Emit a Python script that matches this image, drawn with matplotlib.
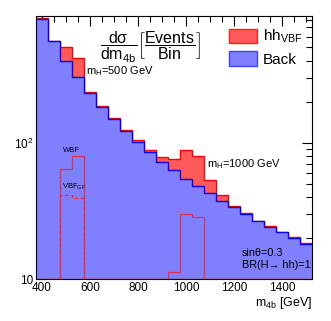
import numpy as np
import matplotlib
matplotlib.use("Agg")
import matplotlib.pyplot as plt
from matplotlib.patches import Patch
from matplotlib.ticker import FixedLocator, MultipleLocator, LogLocator, NullFormatter

plt.rcParams['font.family'] = ['Liberation Sans', 'DejaVu Sans']
plt.rcParams['mathtext.fontset'] = 'custom'
plt.rcParams['mathtext.rm'] = 'Liberation Sans'
plt.rcParams['mathtext.it'] = 'Liberation Sans'
plt.rcParams['mathtext.bf'] = 'Liberation Sans:bold'

# ---- data ----
bin_edges = np.arange(375, 1526, 50)
background = [810, 555, 400, 302, 230, 184, 150, 122, 102, 86, 72.6, 63, 54, 48,
              42.7, 37.5, 33.5, 30.2, 26.5, 24, 22, 20, 18.2]
sig_plus_back = [815, 560, 506, 421, 235, 186, 152, 124, 104, 88.5, 78, 76, 88, 80,
                 53.2, 41, 34.5, 30.6, 26.8, 24.3, 22.3, 20.2, 18.4]
wbf_500 = [0, 0, 64, 80, 0, 0, 0, 0, 0, 0, 0, 0, 0, 0, 0, 0, 0, 0, 0, 0, 0, 0, 0]
vbfgf_500 = [0, 0, 41, 39.5, 0, 0, 0, 0, 0, 0, 0, 0, 0, 0, 0, 0, 0, 0, 0, 0, 0, 0, 0]
wbf_1000 = [0, 0, 0, 0, 0, 0, 0, 0, 0, 0, 0, 11.2, 29.8, 28.4, 0, 0, 0, 0, 0, 0, 0, 0, 0]
x_ticks = [400, 600, 800, 1000, 1200, 1400]
y_ticks = [10, 100]
y_tick_labels = ['10', r'$10^{2}$']

ylo, yhi = 10, 850
xlo, xhi = 375, 1525

fig = plt.figure(figsize=(3.31, 3.21), dpi=100)
ax = fig.add_axes([36/331, 1-279/321, 276/331, 263/321])
ax.set_yscale('log')

red_fill = '#ff5a5a'
blue_fill = '#8080ff'
sig_line = '#e0304a'

ax.stairs(sig_plus_back, bin_edges, fill=True, color=red_fill, baseline=ylo, zorder=1)
ax.stairs(sig_plus_back, bin_edges, color='#ff0000', lw=1.0, baseline=None, zorder=1.5)
ax.stairs(background, bin_edges, fill=True, color=blue_fill, baseline=ylo, zorder=2)
ax.stairs(background, bin_edges, color='#0000ff', lw=1.0, baseline=None, zorder=2.5)

ax.stairs(np.clip(wbf_500, ylo, None), bin_edges, color=sig_line, lw=0.9, baseline=None, zorder=3)
ax.stairs(np.clip(vbfgf_500, ylo, None), bin_edges, color='#ff2020', lw=0.9,
          linestyle=(0, (3, 2)), baseline=None, zorder=3.2)
ax.stairs(np.clip(wbf_1000, ylo, None), bin_edges, color=sig_line, lw=0.9, baseline=None, zorder=3)

ax.set_xlim(xlo, xhi)
ax.set_ylim(ylo, yhi)

ax.xaxis.set_major_locator(FixedLocator(x_ticks))
ax.xaxis.set_minor_locator(MultipleLocator(50))
ax.yaxis.set_major_locator(FixedLocator(y_ticks))
ax.set_yticklabels(y_tick_labels)
ax.yaxis.set_minor_locator(LogLocator(base=10, subs=np.arange(2, 10)))
ax.yaxis.set_minor_formatter(NullFormatter())

ax.tick_params(which='both', direction='in', top=True, right=True, labelsize=8.5, width=0.8)
ax.tick_params(which='major', length=7)
ax.tick_params(which='minor', length=4)
ax.tick_params(axis='x', pad=2)
ax.tick_params(axis='y', pad=2)
for s in ax.spines.values():
    s.set_linewidth(0.8)

ax.set_xlabel(r'm$_{\mathrm{4b}}$ [GeV]', fontsize=9, loc='right', labelpad=1)

# annotations
ax.text(0.415, 0.88, r'$\dfrac{\mathrm{d\sigma}}{\mathrm{dm_{4b}}}\left[\dfrac{\mathrm{Events}}{\mathrm{Bin}}\right]$',
        transform=ax.transAxes, ha='center', va='center', fontsize=11.5)
ax.text(0.18, 0.79, r'm$_{\mathrm{H}}$=500 GeV', transform=ax.transAxes, fontsize=8, va='center')
ax.text(0.62, 0.435, r'm$_{\mathrm{H}}$=1000 GeV', transform=ax.transAxes, fontsize=8, va='center')
ax.text(0.097, 0.49, 'WBF', transform=ax.transAxes, fontsize=5.5, va='center')
ax.text(0.094, 0.35, r'VBF$_{\mathrm{GF}}$', transform=ax.transAxes, fontsize=5.5, va='center')
ax.text(0.745, 0.1, 'sinθ=0.3', transform=ax.transAxes, fontsize=7.8, va='center')
ax.text(0.745, 0.055, 'BR(H→ hh)=1', transform=ax.transAxes, fontsize=7.8, va='center')

handles = [Patch(facecolor=red_fill, edgecolor='#ff2020', lw=1.0),
           Patch(facecolor=blue_fill, edgecolor='#4040ff', lw=1.0)]
ax.legend(handles, [r'hh$_{\mathrm{VBF}}$', 'Back'], loc='upper left',
          bbox_to_anchor=(0.70, 0.955), frameon=False, fontsize=11,
          handlelength=1.85, handleheight=1.05, handletextpad=0.35,
          labelspacing=0.4, borderpad=0, borderaxespad=0)

fig.savefig('out.png', dpi=100)
